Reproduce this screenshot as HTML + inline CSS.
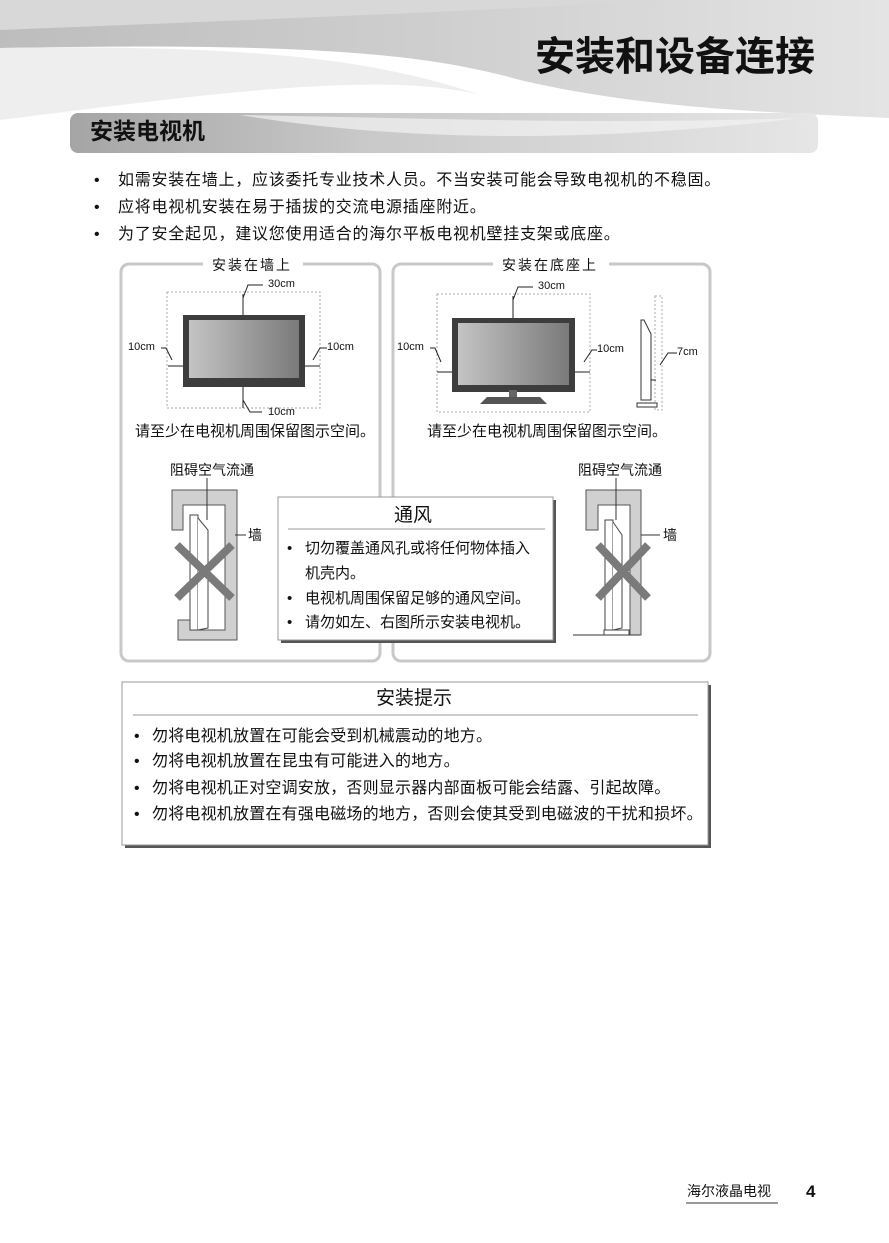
<!DOCTYPE html>
<html><head><meta charset="utf-8"><style>
*{margin:0;padding:0}
body{width:889px;height:1243px;background:#fff;position:relative;overflow:hidden;font-family:"Liberation Sans","Noto Sans CJK SC",sans-serif;color:#111}
.t{position:absolute;white-space:nowrap;line-height:1}
.b{position:absolute;line-height:1;font-size:16px;letter-spacing:.75px;white-space:nowrap}
.c{position:absolute;line-height:1;font-size:16px;letter-spacing:.2px;white-space:nowrap}
.v{position:absolute;line-height:1;font-size:15px;white-space:nowrap}
</style></head><body>
<svg width="889" height="1243" style="position:absolute;left:0;top:0">
<defs>
<linearGradient id="hg" x1="0" y1="0" x2="1" y2="0"><stop offset="0" stop-color="#bdbdbd"/><stop offset=".5" stop-color="#cfcfcf"/><stop offset="1" stop-color="#e4e4e4"/></linearGradient>
<linearGradient id="bg" x1="0" y1="0" x2="1" y2="0"><stop offset="0" stop-color="#a5a5a5"/><stop offset=".4" stop-color="#c9c9c9"/><stop offset="1" stop-color="#e6e6e6"/></linearGradient>
<linearGradient id="sc" x1="0" y1="0" x2="1" y2="0"><stop offset="0" stop-color="#c4c4c4"/><stop offset="1" stop-color="#7a7a7a"/></linearGradient>
</defs>
<path d="M0,0H889V118C760,112 640,108 520,80C430,55 320,42 0,48Z" fill="url(#hg)"/>
<path d="M0,0H660C500,10 300,18 0,30Z" fill="#d8d8d8"/>
<path d="M0,48C250,44 380,60 480,95C380,70 200,95 0,120Z" fill="#eeeeee"/>
<rect x="70" y="113" width="748" height="40" rx="8" fill="url(#bg)"/>
<path d="M240,115C420,118 600,125 800,118C620,140 420,145 240,115Z" fill="#f2f2f2" opacity=".7"/>
<rect x="121" y="264" width="259" height="397" rx="8" fill="none" stroke="#c8c8c8" stroke-width="3"/>
<rect x="393" y="264" width="317" height="397" rx="8" fill="none" stroke="#c8c8c8" stroke-width="3"/>
<rect x="203" y="258" width="100" height="14" fill="#fff"/>
<rect x="493" y="258" width="116" height="14" fill="#fff"/>
<rect x="167" y="292" width="153" height="116" fill="none" stroke="#aaa" stroke-dasharray="2,2"/>
<rect x="183" y="315" width="122" height="72" fill="#3d3d3d"/>
<rect x="189" y="320" width="110" height="58" fill="url(#sc)"/>
<g stroke="#222" stroke-width="1" fill="none">
<path d="M243,294V315M243,387V408M168,366H183M305,366H320"/>
<path d="M263,285H248L243,298M262,412H250L243,400M161,348H166L172,360M327,348H320L313,360"/>
</g>
<rect x="437" y="294" width="153" height="118" fill="none" stroke="#aaa" stroke-dasharray="2,2"/>
<rect x="452" y="318" width="123" height="74" fill="#3d3d3d"/>
<rect x="458" y="323" width="111" height="62" fill="url(#sc)"/>
<rect x="509" y="390" width="8" height="8" fill="#666"/>
<path d="M487,397H540L547,404H480Z" fill="#555"/>
<rect x="655" y="296" width="7" height="114" fill="none" stroke="#aaa" stroke-dasharray="2,2"/>
<path d="M641,320L644,320L651,334V400H641Z" fill="#fff" stroke="#333"/>
<rect x="637" y="403" width="20" height="4" fill="#fff" stroke="#333"/>
<g stroke="#222" stroke-width="1" fill="none">
<path d="M513,296V318M437,372H452M575,372H590M651,380H656"/>
<path d="M533,287H518L513,300M430,348H435L441,362M597,350H592L584,362M677,353H668L660,365"/>
</g>
<path d="M172,490H237V640H178V620H191V630H225V505H183V530H172Z" fill="#d0d0d0" stroke="#555" stroke-width="1"/>
<rect x="190" y="515" width="8" height="115" fill="#fff" stroke="#444"/>
<path d="M198,518L208,530V628L198,630" fill="#fff" stroke="#444"/>
<path d="M207,478V520M235,535H246" stroke="#333"/>
<path d="M177,545L232,598M232,545L177,598" stroke="#7a7a7a" stroke-width="8"/>
<path d="M586,490H641V635H630V505H598V530H586Z" fill="#d0d0d0" stroke="#555"/>
<rect x="605" y="520" width="8" height="110" fill="#fff" stroke="#444"/>
<path d="M613,522L622,535V628L613,630" fill="#fff" stroke="#444"/>
<rect x="604" y="630" width="25" height="5" fill="#fff" stroke="#444"/>
<path d="M573,635H640M616,478V520M641,535H660" stroke="#333"/>
<path d="M598,545L648,598M648,545L598,598" stroke="#7a7a7a" stroke-width="8"/>
<rect x="281" y="500" width="275" height="143" fill="#555"/>
<rect x="278" y="497" width="275" height="143" fill="#fff" stroke="#999"/>
<path d="M288,529H545" stroke="#999"/>
<rect x="125" y="685" width="586" height="163" fill="#555"/>
<rect x="122" y="682" width="586" height="163" fill="#fff" stroke="#999"/>
<path d="M133,715H698" stroke="#999"/>
<path d="M686,1203H778" stroke="#333"/>
</svg>
<div class="t" style="left:535px;top:37px;font-size:40px;font-weight:bold">安装和设备连接</div>
<div class="t" style="left:90px;top:120px;font-size:23px;font-weight:bold">安装电视机</div>
<div class="b" style="left:94px;top:173px">•</div><div class="b" style="left:118px;top:173px">如需安装在墙上，应该委托专业技术人员。不当安装可能会导致电视机的不稳固。</div>
<div class="b" style="left:94px;top:200px">•</div><div class="b" style="left:118px;top:200px">应将电视机安装在易于插拔的交流电源插座附近。</div>
<div class="b" style="left:94px;top:227px">•</div><div class="b" style="left:118px;top:227px">为了安全起见，建议您使用适合的海尔平板电视机壁挂支架或底座。</div>
<div class="t" style="left:212px;top:258px;font-size:14px;letter-spacing:2px">安装在墙上</div>
<div class="t" style="left:502px;top:258px;font-size:14px;letter-spacing:2px">安装在底座上</div>
<div class="t" style="left:268px;top:279px;font-size:11px">30cm</div>
<div class="t" style="left:128px;top:342px;font-size:11px">10cm</div>
<div class="t" style="left:327px;top:342px;font-size:11px">10cm</div>
<div class="t" style="left:268px;top:407px;font-size:11px">10cm</div>
<div class="t" style="left:538px;top:281px;font-size:11px">30cm</div>
<div class="t" style="left:397px;top:342px;font-size:11px">10cm</div>
<div class="t" style="left:597px;top:344px;font-size:11px">10cm</div>
<div class="t" style="left:677px;top:347px;font-size:11px">7cm</div>
<div class="t" style="left:135px;top:424px;font-size:15px">请至少在电视机周围保留图示空间。</div>
<div class="t" style="left:427px;top:424px;font-size:15px">请至少在电视机周围保留图示空间。</div>
<div class="t" style="left:170px;top:463px;font-size:14px">阻碍空气流通</div>
<div class="t" style="left:578px;top:463px;font-size:14px">阻碍空气流通</div>
<div class="t" style="left:248px;top:528px;font-size:14px">墙</div>
<div class="t" style="left:663px;top:528px;font-size:14px">墙</div>
<div class="t" style="left:394px;top:506px;font-size:19px">通风</div>
<div class="v" style="left:287px;top:541px">•</div><div class="v" style="left:305px;top:541px">切勿覆盖通风孔或将任何物体插入</div>
<div class="v" style="left:305px;top:566px">机壳内。</div>
<div class="v" style="left:287px;top:591px">•</div><div class="v" style="left:305px;top:591px">电视机周围保留足够的通风空间。</div>
<div class="v" style="left:287px;top:615px">•</div><div class="v" style="left:305px;top:615px">请勿如左、右图所示安装电视机。</div>
<div class="t" style="left:376px;top:689px;font-size:19px">安装提示</div>
<div class="c" style="left:134px;top:729px">•</div><div class="c" style="left:152px;top:729px">勿将电视机放置在可能会受到机械震动的地方。</div>
<div class="c" style="left:134px;top:754px">•</div><div class="c" style="left:152px;top:754px">勿将电视机放置在昆虫有可能进入的地方。</div>
<div class="c" style="left:134px;top:781px">•</div><div class="c" style="left:152px;top:781px">勿将电视机正对空调安放，否则显示器内部面板可能会结露、引起故障。</div>
<div class="c" style="left:134px;top:807px">•</div><div class="c" style="left:152px;top:807px">勿将电视机放置在有强电磁场的地方，否则会使其受到电磁波的干扰和损坏。</div>
<div class="t" style="left:687px;top:1184px;font-size:14px">海尔液晶电视</div>
<div class="t" style="left:806px;top:1183px;font-size:17px;font-weight:bold">4</div>
</body></html>
